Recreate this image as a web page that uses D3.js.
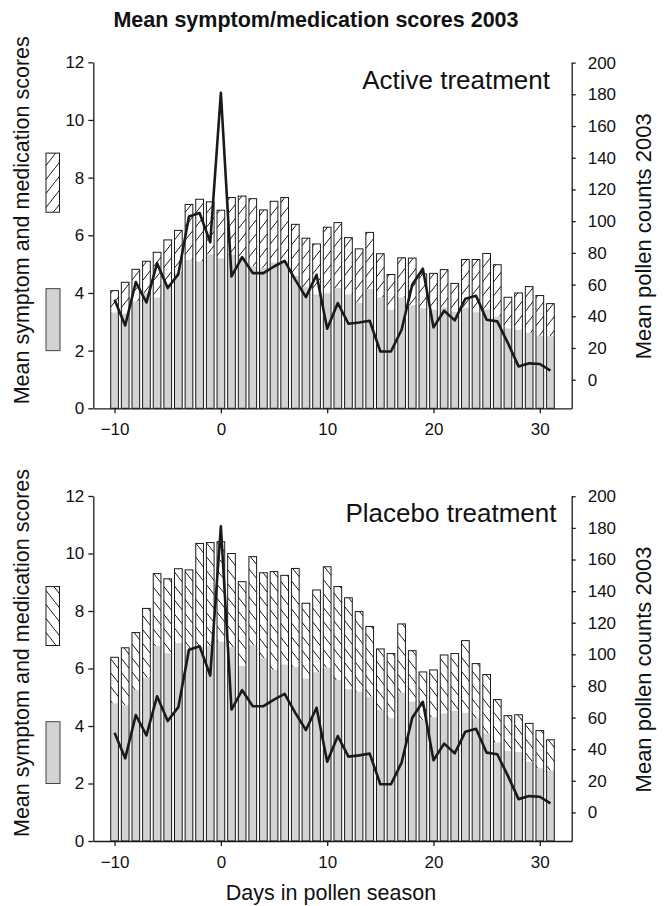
<!DOCTYPE html>
<html><head><meta charset="utf-8">
<script src="https://cdn.jsdelivr.net/npm/d3@7"></script>
<style>
body{margin:0;background:#fff}
text{font-family:"Liberation Sans",Arial,Helvetica,sans-serif;fill:#111}
</style>
</head><body>
<svg id="chart" width="667" height="906"></svg>
<script>
// ---------- data ----------
const days = [-10,-9,-8,-7,-6,-5,-4,-3,-2,-1,0,1,2,3,4,5,6,7,8,9,10,11,12,13,14,15,16,17,18,19,20,21,22,23,24,25,26,27,28,29,30,31];
const pollen = [50.4,34.2,61.6,48.7,73.5,57.8,66.6,102.9,105.1,86.6,181,65.1,77.3,67.2,67.2,71.4,75.0,63,52.1,66.2,32.1,48.3,35.3,36.1,37.2,17.8,17.8,31.5,59.9,70.0,33.0,43.5,37.4,51.1,52.9,37.8,36.8,23.1,8.4,10.3,9.9,5.7];
const activeTotal = [4.08,4.37,4.82,5.10,5.41,5.84,6.17,7.07,7.25,7.16,6.87,7.31,7.36,7.27,6.88,7.18,7.31,6.38,5.90,5.70,6.28,6.44,5.92,5.53,6.10,5.36,4.64,5.22,5.21,4.66,4.68,4.81,4.33,5.16,5.16,5.37,4.98,3.85,4.00,4.22,3.91,3.63];
const activeGray = [3.32,3.28,3.70,3.99,3.84,4.3,4.7,5.14,5.09,5.34,5.20,5.32,5.25,4.93,4.87,5.05,5.10,4.59,4.2,3.95,3.99,4.17,3.95,3.66,4.14,3.84,3.41,3.84,3.58,3.47,3.41,3.50,3.35,3.49,3.33,3.43,3.18,2.77,2.72,2.62,2.52,2.50];
const placeboTotal = [6.39,6.72,7.25,8.09,9.30,9.12,9.47,9.43,10.35,10.38,10.41,10.0,9.02,9.89,9.33,9.37,9.24,9.48,8.27,8.73,9.54,8.85,8.46,7.98,7.46,6.68,6.52,7.55,6.62,5.88,5.95,6.47,6.52,6.97,6.17,5.79,4.92,4.36,4.39,4.09,3.84,3.52];
const placeboGray = [4.79,4.73,5.25,5.68,6.78,6.53,6.88,6.65,6.76,6.78,6.93,6.74,6.09,6.82,6.35,5.95,6.14,6.06,5.65,5.87,6.03,5.60,5.28,5.19,5.02,4.56,4.27,5.16,4.85,4.21,4.30,4.44,4.53,4.46,4.27,3.74,3.43,3.13,3.10,2.76,2.53,2.45];
const leftTicks = [0,2,4,6,8,10,12];
const rightTicks = [0,20,40,60,80,100,120,140,160,180,200];
const xTicks = [-10,0,10,20,30];
const xDomain = [-12,33];
const leftDomain = [0,12];
const rightDomain = [0,200];
const chartTitle = "Mean symptom/medication scores 2003";
const panelNames = ["Active treatment","Placebo treatment"];
const leftTitle = "Mean symptom and medication scores";
const rightTitle = "Mean pollen counts 2003";
const xTitle = "Days in pollen season";

// ---------- drawing ----------
const svg = d3.select("#chart");
svg.append("rect").attr("width",667).attr("height",906).attr("fill","#fff");
const defs = svg.append("defs");
function makeHatch(id, forward){
  const p = defs.append("pattern").attr("id",id)
    .attr("patternUnits","userSpaceOnUse").attr("width",11).attr("height",14);
  p.append("path")
    .attr("d", forward ? "M-1,15.3 L12,-1.3" : "M-1,-1.3 L12,15.3")
    .attr("stroke","#1a1a1a").attr("stroke-width",1).attr("fill","none");
}
makeHatch("hatchF", true);
makeHatch("hatchB", false);

const GRAY = "#d3d3d3";
const DARK = "#1a1a1a";

svg.append("text").attr("x",316).attr("y",26.5).attr("text-anchor","middle")
  .attr("font-size",21.5).attr("font-weight","bold").text(chartTitle);

const panels = [
  {top:62.3, bottom:408.3, total:activeTotal, gray:activeGray, name:panelNames[0], hatch:"hatchF", nameX:550, nameY:89.3},
  {top:496, bottom:841, total:placeboTotal, gray:placeboGray, name:panelNames[1], hatch:"hatchB", nameX:556.5, nameY:521.7}
];

const x = d3.scaleLinear().domain(xDomain).range([93.3,571.7]);
const barW = 7.7;

panels.forEach(cfg => {
  const g = svg.append("g");
  const y = d3.scaleLinear().domain(leftDomain).range([cfg.bottom, cfg.top]);
  const yr0 = d3.scaleLinear().domain(rightDomain).range([cfg.bottom-28.6, cfg.top+0.3]);
  const yr = yr0.copy().domain([yr0.invert(cfg.bottom), rightDomain[1]]).range([cfg.bottom, cfg.top+0.3]);

  const rows = days.map((d,i)=>({day:d, total:cfg.total[i], gray:cfg.gray[i], pollen:pollen[i]}));

  g.selectAll(".h").data(rows).join("rect")
    .attr("x",d=>x(d.day)-barW/2).attr("width",barW)
    .attr("y",d=>y(d.total)).attr("height",d=>y(d.gray)-y(d.total))
    .attr("fill","url(#"+cfg.hatch+")");
  g.selectAll(".gr").data(rows).join("rect")
    .attr("x",d=>x(d.day)-barW/2).attr("width",barW)
    .attr("y",d=>y(d.gray)).attr("height",d=>y(0)-y(d.gray))
    .attr("fill",GRAY);
  g.selectAll(".o").data(rows).join("rect")
    .attr("x",d=>x(d.day)-barW/2).attr("width",barW)
    .attr("y",d=>y(d.total)).attr("height",d=>y(0)-y(d.total))
    .attr("fill","none").attr("stroke",DARK).attr("stroke-width",1);

  g.append("path").datum(rows)
    .attr("d", d3.line().x(d=>x(d.day)).y(d=>yr(d.pollen)))
    .attr("fill","none").attr("stroke",DARK).attr("stroke-width",2.6)
    .attr("stroke-linejoin","round");

  const ax = g.append("g").attr("transform",`translate(${x.range()[0]},0)`)
    .call(d3.axisLeft(y).tickValues(leftTicks).tickSize(5).tickSizeOuter(0).tickPadding(4));
  const axr = g.append("g").attr("transform",`translate(${x.range()[1]},0)`)
    .call(d3.axisRight(yr).tickValues(rightTicks).tickSize(4).tickSizeOuter(0).tickPadding(12));
  const axx = g.append("g").attr("transform",`translate(0,${cfg.bottom})`)
    .call(d3.axisBottom(x).tickValues(xTicks).tickSize(5).tickSizeOuter(0).tickPadding(10));
  [ax,axr,axx].forEach(a=>{
    a.selectAll("path,line").attr("stroke",DARK).attr("stroke-width",1.3);
    a.selectAll("text").attr("font-size",17).attr("fill","#111")
      .attr("font-family","'Liberation Sans',Arial,Helvetica,sans-serif");
  });

  g.append("text").attr("x",cfg.nameX).attr("y",cfg.nameY).attr("text-anchor","end")
    .attr("font-size",26).text(cfg.name);

  g.append("text").attr("transform",`translate(29,${cfg.bottom-4}) rotate(-90)`)
    .attr("text-anchor","start").attr("font-size",21.5).text(leftTitle);
  g.append("text").attr("transform",`translate(651,${(cfg.top+cfg.bottom)/2+1}) rotate(-90)`)
    .attr("text-anchor","middle").attr("font-size",22).text(rightTitle);

  g.append("rect").attr("x",46).attr("width",13.5)
    .attr("y",y(8.85)).attr("height",y(6.8)-y(8.85))
    .attr("fill","url(#"+cfg.hatch+")").attr("stroke",DARK).attr("stroke-width",1);
  g.append("rect").attr("x",46).attr("width",14)
    .attr("y",y(4.15)).attr("height",y(2.0)-y(4.15))
    .attr("fill",GRAY).attr("stroke","#444").attr("stroke-width",1);
});

svg.append("text").attr("x",331).attr("y",900).attr("text-anchor","middle")
  .attr("font-size",21.5).text(xTitle);
</script>
</body></html>
